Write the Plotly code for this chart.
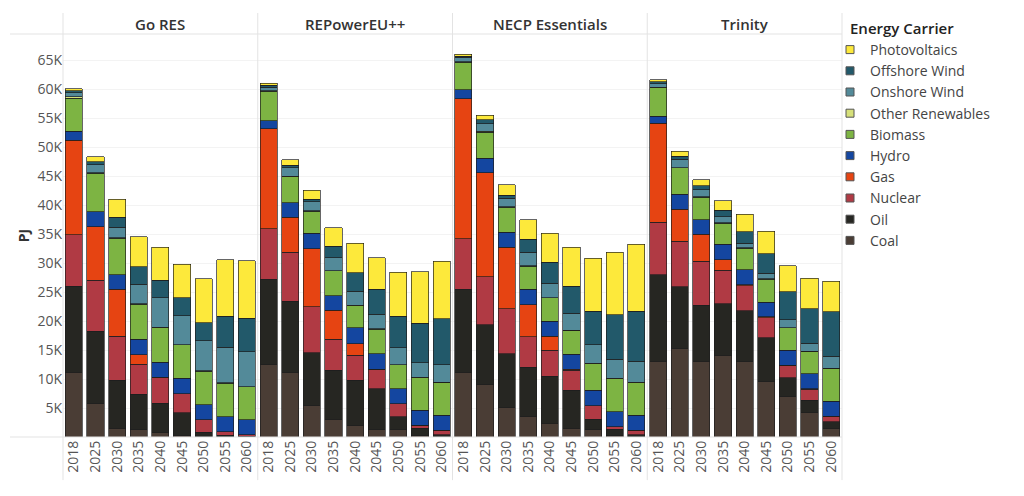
import plotly.graph_objects as go
from plotly.subplots import make_subplots

scenarios = ["Go RES", "REPowerEU++", "NECP Essentials", "Trinity"]
years = ["2018", "2025", "2030", "2035", "2040", "2045", "2050", "2055", "2060"]

# values in PJ (one list per scenario, years 2018..2060)
coal = {
    "Go RES":          [11200, 5750, 1550, 1270, 700, 300, 150, 100, 50],
    "REPowerEU++":     [12500, 11200, 5350, 3050, 1900, 1250, 1250, 300, 150],
    "NECP Essentials": [11200, 9000, 5050, 3450, 2400, 1550, 1250, 300, 150],
    "Trinity":         [13100, 15250, 13100, 14100, 12950, 9500, 6900, 4150, 1550],
}
oil = {
    "Go RES":          [14800, 12500, 8200, 6100, 5100, 3850, 700, 200, 50],
    "REPowerEU++":     [14700, 12250, 9200, 8450, 7900, 7100, 2200, 1250, 250],
    "NECP Essentials": [14250, 10400, 9300, 8600, 8100, 6500, 1800, 1000, 250],
    "Trinity":         [14900, 10650, 9600, 8900, 8800, 7600, 3300, 2200, 1050],
}
nuclear = {
    "Go RES":          [8900, 8800, 7650, 5200, 4400, 3350, 2100, 600, 300],
    "REPowerEU++":     [8750, 8450, 7900, 5350, 4300, 3350, 2300, 450, 750],
    "NECP Essentials": [8750, 8200, 7750, 5250, 4450, 3450, 2300, 450, 750],
    "Trinity":         [9000, 7900, 7650, 5750, 4300, 3450, 2200, 1900, 850],
}
gas = {
    "Go RES":          [16300, 9200, 8100, 1600, 100, 0, 0, 0, 0],
    "REPowerEU++":     [17200, 6000, 10000, 5000, 2000, 0, 0, 0, 0],
    "NECP Essentials": [24150, 17950, 10600, 5500, 2450, 150, 0, 0, 0],
    "Trinity":         [17100, 5500, 4600, 1850, 200, 150, 0, 100, 100],
}
hydro = {
    "Go RES":          [1500, 2600, 2500, 2650, 2600, 2600, 2650, 2600, 2600],
    "REPowerEU++":     [1400, 2500, 2650, 2550, 2750, 2700, 2600, 2600, 2600],
    "NECP Essentials": [1550, 2500, 2650, 2650, 2600, 2600, 2700, 2600, 2600],
    "Trinity":         [1250, 2600, 2550, 2600, 2600, 2500, 2600, 2600, 2650],
}
biomass = {
    "Go RES":          [5750, 6600, 6300, 6100, 5900, 5800, 5750, 5800, 5650],
    "REPowerEU++":     [5100, 4500, 3850, 4250, 3800, 4200, 4100, 5650, 5650],
    "NECP Essentials": [4700, 4550, 4300, 4000, 4000, 4150, 4600, 5700, 5600],
    "Trinity":         [4900, 4500, 3850, 3700, 3700, 4000, 3800, 3800, 5650],
}
other_renewables = {
    "Go RES":          [200, 100, 100, 100, 100, 50, 50, 50, 50],
    "REPowerEU++":     [100, 100, 100, 50, 50, 50, 50, 50, 50],
    "NECP Essentials": [100, 100, 100, 50, 50, 50, 100, 50, 50],
    "Trinity":         [100, 50, 100, 50, 50, 50, 50, 50, 50],
}
onshore_wind = {
    "Go RES":          [750, 1400, 1800, 3300, 5100, 5000, 5200, 6150, 6000],
    "REPowerEU++":     [600, 1450, 1550, 2200, 2400, 2500, 2900, 2500, 3050],
    "NECP Essentials": [750, 1300, 1450, 2400, 2500, 2900, 3200, 3350, 3700],
    "Trinity":         [600, 1450, 1200, 1000, 850, 1000, 1400, 1400, 2000],
}
offshore_wind = {
    "Go RES":          [300, 500, 1700, 3050, 3050, 3100, 3100, 5300, 5750],
    "REPowerEU++":     [300, 450, 400, 2000, 3200, 4350, 5400, 6800, 7900],
    "NECP Essentials": [200, 700, 500, 2200, 3600, 4650, 5700, 7600, 8550],
    "Trinity":         [300, 500, 650, 1150, 1950, 3350, 4800, 5900, 7700],
}
photovoltaics = {
    "Go RES":          [400, 900, 3100, 5200, 5700, 5700, 7600, 9800, 9950],
    "REPowerEU++":     [400, 900, 1550, 3150, 5100, 5400, 7650, 8900, 9950],
    "NECP Essentials": [400, 800, 1800, 3400, 4950, 6700, 9200, 10800, 11550],
    "Trinity":         [400, 850, 1050, 1650, 3050, 3900, 4500, 5250, 5250],
}

# bottom of the stack first
carriers = [
    ("Coal", coal, "#4a3d35"),
    ("Oil", oil, "#262622"),
    ("Nuclear", nuclear, "#b03a44"),
    ("Gas", gas, "#e64412"),
    ("Hydro", hydro, "#1446a0"),
    ("Biomass", biomass, "#7db443"),
    ("Other Renewables", other_renewables, "#d6e07a"),
    ("Onshore Wind", onshore_wind, "#538a99"),
    ("Offshore Wind", offshore_wind, "#22596a"),
    ("Photovoltaics", photovoltaics, "#fde93b"),
]

y_ticks = [5000 * i for i in range(1, 14)]
y_tick_text = [f"{v // 1000}K" for v in y_ticks]

FONT = "Open Sans"

fig = make_subplots(rows=1, cols=4, shared_yaxes=True, horizontal_spacing=0)

for name, data, color in carriers:
    for i, sc in enumerate(scenarios):
        fig.add_trace(
            go.Bar(
                x=years,
                y=data[sc],
                name=name,
                showlegend=False,
                marker=dict(color=color, line=dict(color="rgba(30,30,30,0.85)", width=0.8)),
            ),
            row=1, col=i + 1
        )
    # small square swatch for the legend, like tableau
    fig.add_trace(
        go.Scatter(
            x=[None], y=[None], mode="markers", name=name,
            marker=dict(symbol="square", size=8, color=color,
                        line=dict(color="#555555", width=1)),
        ),
        row=1, col=1
    )

# facet headers
for i, sc in enumerate(scenarios):
    fig.add_annotation(
        x=i * 0.25 + 0.125, y=1.025, xref="paper", yref="paper",
        text=sc, showarrow=False, xanchor="center", yanchor="middle",
        font=dict(family=FONT, size=15, color="#333333", weight=600),
    )

fig.add_annotation(
    x=1.0077, y=1.015, xref="paper", yref="paper",
    text="Energy Carrier", showarrow=False, xanchor="left", yanchor="middle",
    font=dict(family=FONT, size=15, color="#222222", weight=600),
)

# separators like the tableau grid
sep = "#e3e3e3"
for k in range(5):
    fig.add_shape(type="line", xref="paper", yref="paper",
                  x0=k * 0.25, x1=k * 0.25, y0=-0.107, y1=1.052,
                  line=dict(color=sep, width=1))
for yy in (0, 1):
    fig.add_shape(type="line", xref="paper", yref="paper",
                  x0=-0.068, x1=1, y0=yy, y1=yy,
                  line=dict(color=sep, width=1))

# page body has an 8px margin, so everything is nudged up/left by 8px
fig.update_layout(
    barmode="stack",
    bargap=0.21,
    width=1024, height=496,
    margin=dict(l=55, r=190, t=26, b=67),
    paper_bgcolor="white",
    plot_bgcolor="white",
    font=dict(family=FONT, color="#555555"),
    legend=dict(
        traceorder="reversed",
        x=0.9846, xanchor="left", y=1.0, yanchor="top",
        font=dict(family=FONT, size=14, color="#444444"),
        itemwidth=30,
        bgcolor="rgba(0,0,0,0)",
    ),
)

fig.update_xaxes(
    type="category",
    tickangle=-90,
    tickfont=dict(family=FONT, size=14, color="#555555"),
    showgrid=False, showline=False, ticks="", automargin=False,
)
fig.update_yaxes(
    range=[0, 69500],
    tickvals=y_ticks, ticktext=y_tick_text,
    tickfont=dict(family=FONT, size=14, color="#555555"),
    showgrid=True, gridcolor="#f3f3f3", zeroline=False, showline=False, ticks="",
    automargin=False,
)
fig.update_yaxes(title=dict(text="PJ", font=dict(family=FONT, size=14, color="#333333", weight=700), standoff=4),
                 row=1, col=1)

fig.write_html("out.html")
